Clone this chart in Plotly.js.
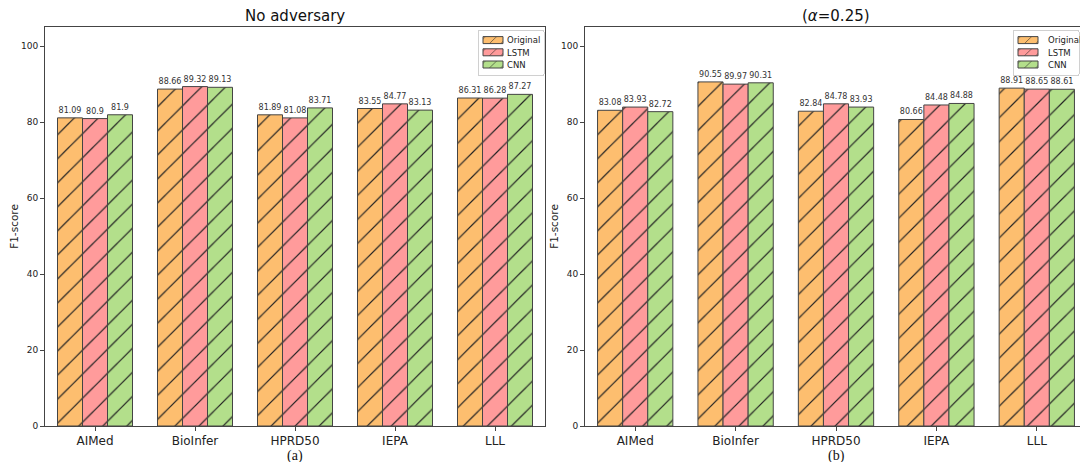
<!DOCTYPE html>
<html>
<head>
<meta charset="utf-8">
<script src="https://cdn.plot.ly/plotly-3.0.1.min.js"></script>
<style>
html,body{margin:0;padding:0;overflow:hidden;background:#fff;}
#chart{width:1090px;height:462px;}
</style>
</head>
<body>
<div id="chart"></div>
<script>
var categories = ["AIMed", "BioInfer", "HPRD50", "IEPA", "LLL"];
var seriesNames = ["Original", "LSTM", "CNN"];
// Panel (a): No adversary
var noAdvOriginal = [81.09, 88.66, 81.89, 83.55, 86.31];
var noAdvLSTM     = [80.9, 89.32, 81.08, 84.77, 86.28];
var noAdvCNN      = [81.9, 89.13, 83.71, 83.13, 87.27];
// Panel (b): alpha = 0.25
var advOriginal = [83.08, 90.55, 82.84, 80.66, 88.91];
var advLSTM     = [83.93, 89.97, 84.78, 84.48, 88.65];
var advCNN      = [82.72, 90.31, 83.93, 84.88, 88.61];
var yTicks = [0, 20, 40, 60, 80, 100];

var colors = ["#fdbe6f", "#ff9b9b", "#b3df8b"];
var FONT = "DejaVu Sans, Verdana, sans-serif";

function makeTrace(name, vals, idx, xa, ya, leg) {
  return {
    type: "bar",
    name: name,
    x: categories,
    y: vals,
    xaxis: xa,
    yaxis: ya,
    legend: leg,
    text: vals.map(String),
    textposition: "outside",
    cliponaxis: false,
    textfont: {family: FONT, size: 8, color: "#333"},
    marker: {
      color: colors[idx],
      line: {color: "#444", width: 1},
      pattern: {shape: "/", fgcolor: "#222", bgcolor: colors[idx], fillmode: "replace", size: 17, solidity: 0.07}
    },
    hoverinfo: "x+y+name"
  };
}

var data = [
  makeTrace(seriesNames[0], noAdvOriginal, 0, "x", "y", "legend"),
  makeTrace(seriesNames[1], noAdvLSTM, 1, "x", "y", "legend"),
  makeTrace(seriesNames[2], noAdvCNN, 2, "x", "y", "legend"),
  makeTrace(seriesNames[0], advOriginal, 0, "x2", "y2", "legend2"),
  makeTrace(seriesNames[1], advLSTM, 1, "x2", "y2", "legend2"),
  makeTrace(seriesNames[2], advCNN, 2, "x2", "y2", "legend2")
];

var W = 1090, H = 462;
function px(x){return x / W;}
function py(y){return 1 - y / H;}

function xAxis(d0, d1, anchor) {
  return {
    domain: [px(d0), px(d1)],
    anchor: anchor,
    type: "category",
    range: [-0.5, 4.5],
    showline: true, mirror: true, linecolor: "#444", linewidth: 1,
    ticks: "outside", ticklen: 4, tickcolor: "#444",
    tickfont: {family: FONT, size: 12, color: "#222"},
    showgrid: false, zeroline: false, fixedrange: true
  };
}
function yAxis(anchor) {
  return {
    domain: [py(426), py(27)],
    anchor: anchor,
    range: [0, 105],
    tickvals: yTicks,
    showline: true, mirror: true, linecolor: "#444", linewidth: 1,
    ticks: "outside", ticklen: 4, tickcolor: "#444",
    tickfont: {family: FONT, size: 9, color: "#222"},
    showgrid: false, zeroline: false, fixedrange: true,
    title: {text: "F1-score", font: {family: FONT, size: 10.5, color: "#222"}, standoff: 0}
  };
}

var legendStyle = {
  bgcolor: "rgba(255,255,255,0.9)", bordercolor: "#d0d0d0", borderwidth: 1,
  font: {family: FONT, size: 8.5, color: "#222"},
  xanchor: "right", yanchor: "top", tracegroupgap: 0, itemwidth: 30
};

var layout = {
  width: W, height: H,
  margin: {l: 0, r: 0, t: 0, b: 0},
  paper_bgcolor: "#fff", plot_bgcolor: "#fff",
  barmode: "group", bargap: 0.25, bargroupgap: 0,
  xaxis: xAxis(45, 545, "y"),
  yaxis: yAxis("x"),
  xaxis2: xAxis(585, 1087, "y2"),
  yaxis2: yAxis("x2"),
  legend: Object.assign({x: px(543), y: py(29)}, legendStyle),
  legend2: Object.assign({x: px(1079), y: py(29)}, legendStyle),
  annotations: [
    {text: "No adversary", x: px(295), y: py(16), xref: "paper", yref: "paper", showarrow: false,
     xanchor: "center", yanchor: "middle", font: {family: FONT, size: 15, color: "#111"}},
    {text: "(<i>α</i>=0.25)", x: px(836), y: py(16), xref: "paper", yref: "paper", showarrow: false,
     xanchor: "center", yanchor: "middle", font: {family: FONT, size: 15, color: "#111"}},
    {text: "(a)", x: px(295), y: py(456), xref: "paper", yref: "paper", showarrow: false,
     xanchor: "center", yanchor: "middle", font: {family: "Liberation Serif, Times New Roman, serif", size: 14, color: "#111"}},
    {text: "(b)", x: px(836), y: py(456), xref: "paper", yref: "paper", showarrow: false,
     xanchor: "center", yanchor: "middle", font: {family: "Liberation Serif, Times New Roman, serif", size: 14, color: "#111"}}
  ],
  showlegend: true
};

// Compact the legends (matplotlib-style: short wide swatches, tight rows)
var legendBoxes = [{right: 544, top: 30}, {right: 1079, top: 30}];
function compactLegends(gd) {
  var seen = Array.prototype.slice.call(gd.querySelectorAll("g.legend, g.legend2"));
  seen.sort(function(a, b) { return a.getBoundingClientRect().left - b.getBoundingClientRect().left; });
  seen.forEach(function(lg, k) {
    var box = legendBoxes[k] || legendBoxes[legendBoxes.length - 1];
    var sb = lg.querySelector(".scrollbox");
    if (sb) sb.removeAttribute("clip-path");
    var traces = lg.querySelectorAll("g.traces");
    var swatchW = 20, swatchH = 7, rowH = 12.2, padL = 5, gap = 4, padTop = 4;
    var boxW = 66, boxH = padTop * 2 + rowH * traces.length + 1;
    var L = box.right - boxW, T = box.top;
    traces.forEach(function(tr, i) {
      var p = tr.querySelector(".legendpoints path");
      if (!p) return;
      p.setAttribute("d", "M" + swatchW/2 + "," + swatchH/2 + "H" + (-swatchW/2) + "V" + (-swatchH/2) + "H" + swatchW/2 + "Z");
      var pr = p.getBoundingClientRect();
      var cx = pr.left + pr.width / 2, cy = pr.top + pr.height / 2;
      var wantX = L + padL + swatchW / 2, wantY = T + padTop + rowH * (i + 0.5);
      var m = /translate\(\s*([-\d.e]+)[ ,]+([-\d.e]+)\s*\)/.exec(tr.getAttribute("transform") || "");
      var tx = m ? parseFloat(m[1]) : 0, ty = m ? parseFloat(m[2]) : 0;
      tr.setAttribute("transform", "translate(" + (tx + wantX - cx) + "," + (ty + wantY - cy) + ")");
      var t = tr.querySelector("text.legendtext");
      if (t) {
        var trr = t.getBoundingClientRect();
        var wantTL = L + padL + swatchW + gap;
        var curX = parseFloat(t.getAttribute("x") || "0");
        var nx = curX + (wantTL - trr.left);
        t.setAttribute("x", nx);
        t.querySelectorAll("tspan").forEach(function(ts){ if (ts.getAttribute("x") !== null) ts.setAttribute("x", nx); });
      }
    });
    var bg = lg.querySelector("rect.bg");
    if (bg) {
      var br = bg.getBoundingClientRect();
      var bx = parseFloat(bg.getAttribute("x") || "0"), by = parseFloat(bg.getAttribute("y") || "0");
      bg.setAttribute("x", bx + (L - br.left));
      bg.setAttribute("y", by + (T - br.top));
      bg.setAttribute("width", boxW);
      bg.setAttribute("height", boxH);
      bg.setAttribute("rx", 2); bg.setAttribute("ry", 2);
    }
  });
}

var gd = document.getElementById("chart");
Plotly.newPlot(gd, data, layout, {displayModeBar: false, staticPlot: true}).then(function() {
  compactLegends(gd);
});
</script>
</body>
</html>
